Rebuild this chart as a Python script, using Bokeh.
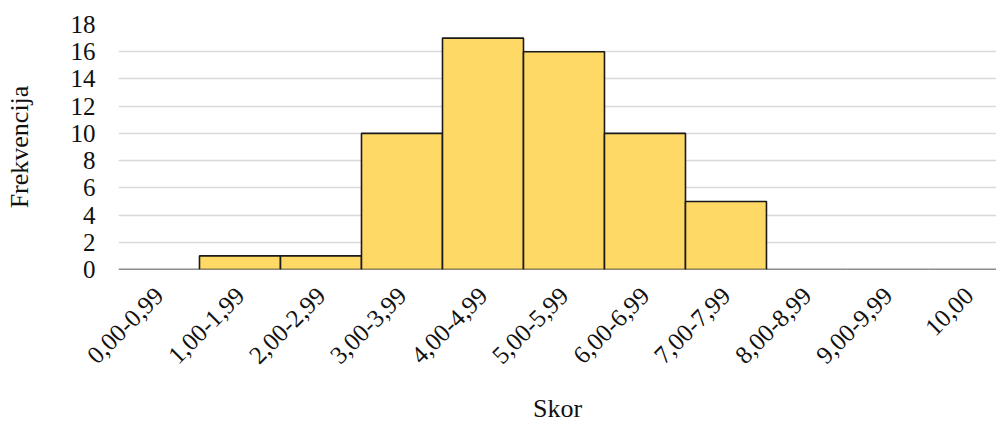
import math
from bokeh.plotting import figure
from bokeh.models import Range1d, FixedTicker, ColumnDataSource
from bokeh.embed import file_html
from bokeh.resources import INLINE

categories = ["0,00-0,99", "1,00-1,99", "2,00-2,99", "3,00-3,99", "4,00-4,99",
              "5,00-5,99", "6,00-6,99", "7,00-7,99", "8,00-8,99", "9,00-9,99", "10,00"]
frequencies = [0, 1, 1, 10, 17, 16, 10, 5, 0, 0, 0]
y_ticks = [0, 2, 4, 6, 8, 10, 12, 14, 16, 18]

centers = [i + 0.5 for i in range(len(categories))]
src = ColumnDataSource(dict(x=centers, top=frequencies, cat=categories))

p = figure(width=996, height=426, output_backend="svg", toolbar_location=None,
           x_range=Range1d(0, 10.84), y_range=Range1d(0, 18),
           min_border_left=118, min_border_top=24, min_border_right=0,
           min_border_bottom=156)
p.outline_line_color = None
p.background_fill_color = "white"
p.border_fill_color = "white"

p.vbar(x="x", top="top", width=1.0, bottom=0, source=src,
       fill_color="#FFD966", line_color="#1a1a1a", line_width=1.6)

FONT = "Liberation Serif"

p.xgrid.grid_line_color = None
p.ygrid.grid_line_color = "#D9D9D9"
p.ygrid.grid_line_width = 1.6
p.yaxis.ticker = FixedTicker(ticks=y_ticks)
p.xaxis.ticker = FixedTicker(ticks=centers)
p.xaxis.major_label_overrides = {c: lab for c, lab in zip(centers, categories)}
p.xaxis.major_label_orientation = math.pi / 4

for ax in (p.xaxis, p.yaxis):
    ax.axis_line_color = None
    ax.major_tick_line_color = None
    ax.minor_tick_line_color = None
    ax.major_tick_out = 0
    ax.major_tick_in = 0
    ax.major_label_text_font = FONT
    ax.major_label_text_font_size = "25px"
    ax.major_label_text_color = "#111111"
    ax.axis_label_text_font = FONT
    ax.axis_label_text_font_size = "26px"
    ax.axis_label_text_font_style = "normal"
    ax.axis_label_text_color = "#111111"

p.xaxis.axis_label = "Skor"
p.yaxis.axis_label = "Frekvencija"
p.yaxis.major_label_standoff = 23
p.yaxis.axis_label_standoff = 34
p.xaxis.major_label_standoff = 22
p.xaxis.axis_label_standoff = 20

open("out.html", "w").write(file_html(p, INLINE))
